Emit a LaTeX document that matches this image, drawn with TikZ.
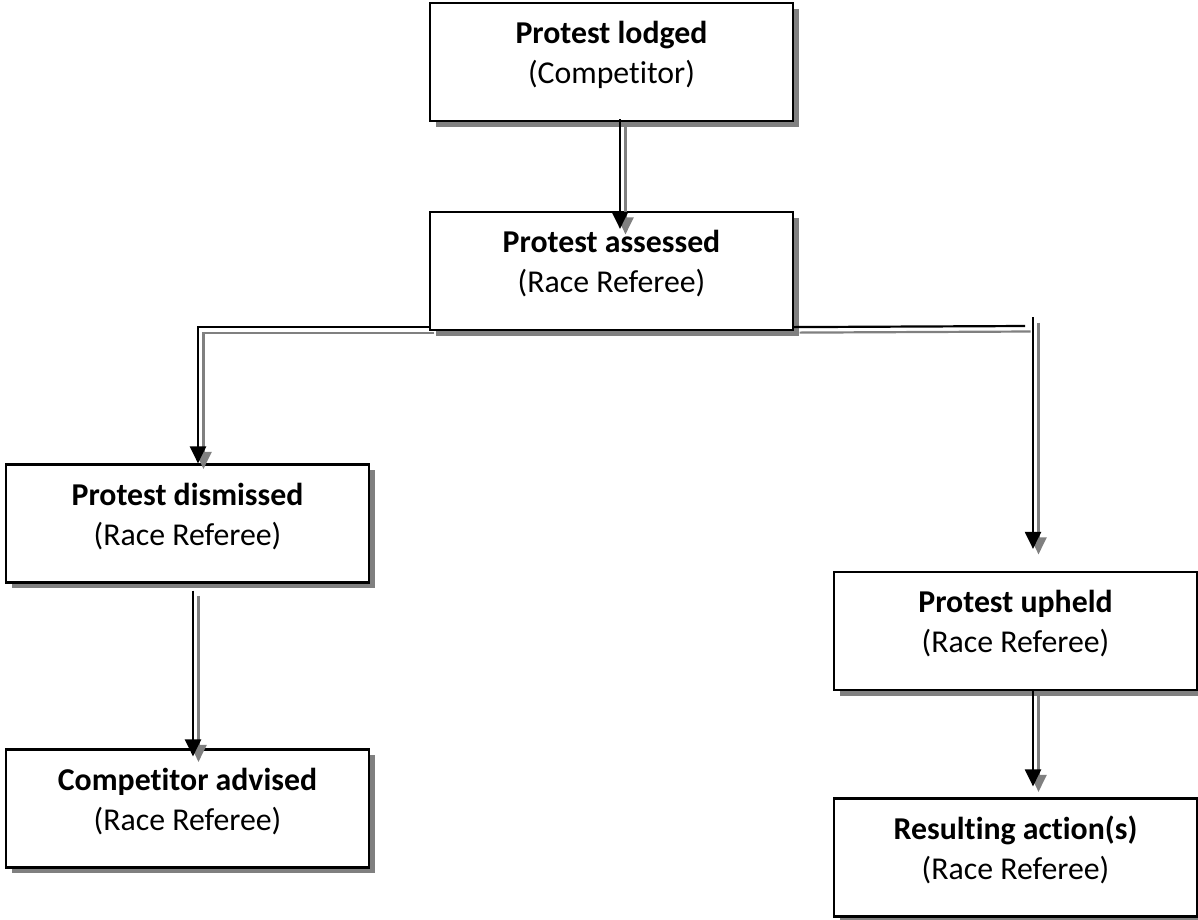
\documentclass[tikz,border=0pt]{standalone}
\usepackage{fontspec}
\setmainfont{Carlito}[Ligatures=CommonOff]
\usetikzlibrary{arrows.meta,shadows}

\definecolor{shadowgray}{RGB}{128,128,128}

\tikzset{
  stagebox/.style={draw, line width=2.2pt, fill=white, inner sep=0pt,
    minimum width=363pt, minimum height=118pt, align=center,
    font=\fontsize{31.8}{40}\selectfont,
    drop shadow={shadow xshift=5.5pt, shadow yshift=-5.5pt, fill=shadowgray, opacity=1}},
  flow/.style={line width=2.2pt, -{Triangle[length=17pt,width=16pt]}},
  plain/.style={line width=2.2pt}
}

\newcommand{\stagetext}[2]{\textbf{#1}\\(#2)\\[-21pt]\mbox{}}

\begin{document}
\begin{tikzpicture}[x=1pt,y=-1pt]
  \useasboundingbox (0,0) rectangle (1198,919);

  % stages
  \node[stagebox] (lodged)    at (611.5,62)    {\stagetext{Protest lodged}{Competitor}};
  \node[stagebox] (assessed)  at (611.5,271)   {\stagetext{Protest assessed}{Race Referee}};
  \node[stagebox] (dismissed) at (187.5,523.5) {\stagetext{Protest dismissed}{Race Referee}};
  \node[stagebox] (advised)   at (187.5,808.5) {\stagetext{Competitor advised}{Race Referee}};
  \node[stagebox] (upheld)    at (1015.5,631)  {\stagetext{Protest upheld}{Race Referee}};
  \node[stagebox] (resulting) at (1015.5,857.5) {\stagetext{Resulting action(s)}{Race Referee}};

  \coordinate (elbow) at (1025,326);
  \coordinate (drop)  at (1033,317);

  % connectors, shadow first
  \foreach \d/\c in {5.5/shadowgray,0/black}{
    \begin{scope}[transform canvas={shift={(\d pt,-\d pt)}}, color=\c]
      \draw[flow] ([xshift=8.5pt,yshift=3pt]lodged.south) -- ([xshift=8.5pt,yshift=-18pt]assessed.north);
      \draw[flow] ([yshift=4pt]assessed.south west) -| ([xshift=10.5pt]dismissed.north);
      \draw[plain] ([yshift=4pt]assessed.south east) -- (elbow);
      \draw[flow] (drop) -- ([xshift=17.5pt,yshift=22pt]upheld.north);
      \draw[flow] ([xshift=5.5pt,yshift=-7pt]dismissed.south) -- ([xshift=5.5pt,yshift=-8pt]advised.north);
      \draw[flow] ([xshift=17.5pt,yshift=2pt]upheld.south) -- ([xshift=17.5pt,yshift=11pt]resulting.north);
    \end{scope}
  }
\end{tikzpicture}
\end{document}
